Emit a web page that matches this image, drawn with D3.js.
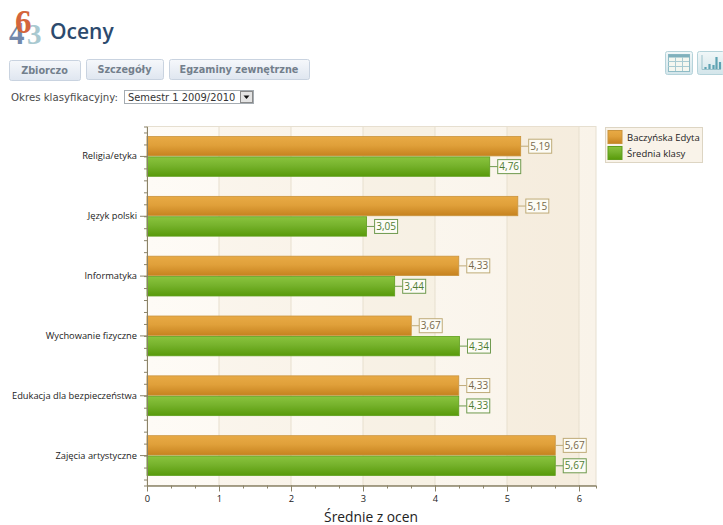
<!DOCTYPE html>
<html>
<head>
<meta charset="utf-8">
<script src="https://cdnjs.cloudflare.com/ajax/libs/d3/7.8.5/d3.min.js"></script>
<style>
body { margin: 0; background: #fff; overflow: hidden; }
text { font-family: "Open Sans", sans-serif; }
</style>
</head>
<body>
<div id="chart"></div>
<script>
var categories = ["Religia/etyka", "Język polski", "Informatyka", "Wychowanie fizyczne", "Edukacja dla bezpieczeństwa", "Zajęcia artystyczne"];
var seriesNames = ["Baczyńska Edyta", "Średnia klasy"];
var studentValues = [5.19, 5.15, 4.33, 3.67, 4.33, 5.67];
var classValues = [4.76, 3.05, 3.44, 4.34, 4.33, 5.67];
var xTicks = [0, 1, 2, 3, 4, 5, 6];
var tabs = ["Zbiorczo", "Szczegóły", "Egzaminy zewnętrzne"];

var margin = {top: 126.5, right: 127, bottom: 39.5, left: 147};
var width = 723 - margin.left - margin.right,
    height = 525 - margin.top - margin.bottom;

var root = d3.select("#chart").append("svg")
    .attr("width", 723)
    .attr("height", 525);

var defs = root.append("defs");
function vgrad(id, stops) {
    var g = defs.append("linearGradient").attr("id", id)
        .attr("x1", 0).attr("y1", 0).attr("x2", 0).attr("y2", 1);
    stops.forEach(function(s) {
        g.append("stop").attr("offset", s[0]).attr("stop-color", s[1]);
    });
}
vgrad("gradOrange", [[0, "#e8aa45"], [0.45, "#e0a03a"], [1, "#c6821f"]]);
vgrad("gradGreen", [[0, "#8ac43e"], [0.45, "#76b22c"], [1, "#589a0a"]]);
vgrad("gradBtn", [[0, "#f6f8fb"], [1, "#dfe6f0"]]);
vgrad("gradIcon", [[0, "#f1f7f8"], [1, "#d3e5ea"]]);
var bgGrad = defs.append("linearGradient").attr("id", "gradPlot")
    .attr("x1", 0).attr("y1", 0).attr("x2", 1).attr("y2", 0);
bgGrad.append("stop").attr("offset", 0).attr("stop-color", "#fefbf6");
bgGrad.append("stop").attr("offset", 1).attr("stop-color", "#f9f3e9");

// page header
var icon = root.append("g");
icon.append("text").attr("x", 9).attr("y", 44).text("4")
    .style("font-family", "Liberation Serif").style("font-size", "31px").style("font-weight", "bold").attr("fill", "#7288ab");
icon.append("text").attr("x", 27).attr("y", 44).text("3")
    .style("font-family", "Liberation Serif").style("font-size", "29px").style("font-weight", "bold").attr("fill", "#a9c9d0");
icon.append("text").attr("x", 15).attr("y", 33).text("6")
    .style("font-family", "Liberation Serif").style("font-size", "33px").style("font-weight", "bold").attr("fill", "#d4653c");

root.append("text").attr("x", 50).attr("y", 39).text("Oceny")
    .style("font-size", "21px").style("font-weight", "600").attr("fill", "#2c4a6e");

var tabX = d3.scaleOrdinal().domain(tabs).range([9, 86, 169]);
var tabW = d3.scaleOrdinal().domain(tabs).range([71, 77, 140]);
var tabG = root.selectAll(".tab").data(tabs).enter().append("g").attr("class", "tab");
tabG.append("rect")
    .attr("x", function(d) { return tabX(d) + 0.5; })
    .attr("y", function(d, i) { return i == 0 ? 60.5 : 59.5; })
    .attr("width", function(d) { return tabW(d); })
    .attr("height", 20)
    .attr("rx", 2)
    .attr("fill", "url(#gradBtn)")
    .attr("stroke", "#c9d3e0");
tabG.append("text")
    .attr("x", function(d) { return tabX(d) + tabW(d) / 2; })
    .attr("y", function(d, i) { return i == 0 ? 74 : 73; })
    .attr("text-anchor", "middle")
    .text(function(d) { return d; })
    .style("font-family", "DejaVu Sans")
    .style("font-size", "9.7px")
    .style("font-weight", "bold")
    .attr("fill", "#737f8c");

root.append("text").attr("x", 11).attr("y", 101).text("Okres klasyfikacyjny:")
    .style("font-family", "DejaVu Sans").style("font-size", "10.2px").attr("fill", "#4a4a4a");
root.append("rect").attr("x", 124.5).attr("y", 90.5).attr("width", 129).attr("height", 13)
    .attr("fill", "#fff").attr("stroke", "#a5acb2");
root.append("text").attr("x", 128).attr("y", 101).text("Semestr 1 2009/2010")
    .style("font-family", "DejaVu Sans").style("font-size", "9.9px").attr("fill", "#333");
root.append("rect").attr("x", 240.5).attr("y", 91.5).attr("width", 12).attr("height", 11)
    .attr("fill", "#e4e4e4").attr("stroke", "#8a8a8a");
root.append("path").attr("d", "M243.5 95.5h6l-3 3.5z").attr("fill", "#111");

// view switch icons
var tableIcon = root.append("g");
tableIcon.append("rect").attr("x", 665.5).attr("y", 51.5).attr("width", 27).attr("height", 23).attr("rx", 2)
    .attr("fill", "url(#gradIcon)").attr("stroke", "#b5d3da");
tableIcon.append("rect").attr("x", 668.5).attr("y", 54.5).attr("width", 21).attr("height", 17)
    .attr("fill", "#f4f7f0").attr("stroke", "#8fbcc6");
tableIcon.append("rect").attr("x", 668.5).attr("y", 54.5).attr("width", 21).attr("height", 3).attr("fill", "#7fb0bc");
tableIcon.append("path").attr("d", "M668 61.5h21M668 66.5h21M675.5 57v14M682.5 57v14")
    .attr("stroke", "#a8cbd2").attr("fill", "none");
var barIcon = root.append("g");
barIcon.append("rect").attr("x", 697.5).attr("y", 51.5).attr("width", 27).attr("height", 23).attr("rx", 2)
    .attr("fill", "url(#gradIcon)").attr("stroke", "#b5d3da");
barIcon.append("path").attr("d", "M702 55v14.5h19").attr("stroke", "#9cc2cb").attr("fill", "none");
barIcon.append("path").attr("d", "M705.5 69v-2M709.5 69v-5M713.5 69v-4M716.5 69v-12M720 69v-7")
    .attr("stroke", "#5fa3b3").attr("stroke-width", 2.2).attr("fill", "none");

// chart
var svg = root.append("g")
    .attr("transform", "translate(" + margin.left + "," + margin.top + ")");

var x = d3.scaleLinear().domain([0, 6.236]).range([0, width]);
var y0 = d3.scaleBand().domain(categories).range([0, height]).paddingInner(0.335).paddingOuter(0.1675);
var y1 = d3.scaleBand().domain(seriesNames).range([0, y0.bandwidth()]).paddingInner(0.05);
var yMinor = d3.scaleLinear().domain([0, categories.length]).range([0, height]);

svg.append("rect")
    .attr("width", width).attr("height", height)
    .attr("fill", "url(#gradPlot)")
    .attr("stroke", "#e6dfd0");

// alternating strips between the grid lines
svg.selectAll(".strip").data([1, 3, 5]).enter().append("rect")
    .attr("class", "strip")
    .attr("x", function(d) { return x(d); })
    .attr("width", function(d) { return x(d + 1) - x(d); })
    .attr("height", height)
    .attr("fill", "#efe3cd")
    .attr("opacity", function(d) { return d == 5 ? 0.4 : d == 3 ? 0.3 : 0.2; });

svg.selectAll(".grid").data(xTicks.slice(1)).enter().append("line")
    .attr("class", "grid")
    .attr("x1", function(d) { return x(d); })
    .attr("x2", function(d) { return x(d); })
    .attr("y2", height)
    .attr("stroke", "#e7dfce");

var seriesValues = [studentValues, classValues];
var seriesGrad = ["url(#gradOrange)", "url(#gradGreen)"];
var seriesStroke = ["#c9933c", "#5f9e1c"];
var labelStroke = ["#bfab78", "#6f9a4e"];
var labelColor = ["#77694a", "#4f7c33"];

var points = [];
seriesNames.forEach(function(name, s) {
    categories.forEach(function(cat, i) {
        points.push({cat: cat, name: name, s: s, v: seriesValues[s][i]});
    });
});

function barY(d) { return y0(d.cat) + y1(d.name); }

svg.selectAll(".bar").data(points).enter().append("rect")
    .attr("class", "bar")
    .attr("x", 0)
    .attr("y", barY)
    .attr("width", function(d) { return x(d.v); })
    .attr("height", y1.bandwidth())
    .attr("fill", function(d) { return seriesGrad[d.s]; })
    .attr("stroke", function(d) { return seriesStroke[d.s]; })
    .attr("stroke-width", 0.8);

var lab = svg.selectAll(".lab").data(points).enter().append("g").attr("class", "lab");
lab.append("line")
    .attr("x1", function(d) { return x(d.v); })
    .attr("x2", function(d) { return x(d.v) + 8; })
    .attr("y1", function(d) { return barY(d) + y1.bandwidth() / 2; })
    .attr("y2", function(d) { return barY(d) + y1.bandwidth() / 2; })
    .attr("stroke", function(d) { return labelStroke[d.s]; });
lab.append("rect")
    .attr("x", function(d) { return x(d.v) + 8; })
    .attr("y", function(d) { return barY(d) + y1.bandwidth() / 2 - 7; })
    .attr("width", 23)
    .attr("height", 14)
    .attr("fill", "#fdfcf6")
    .attr("stroke", function(d) { return labelStroke[d.s]; });
lab.append("text")
    .attr("x", function(d) { return x(d.v) + 19.5; })
    .attr("y", function(d) { return barY(d) + y1.bandwidth() / 2 + 3.5; })
    .attr("text-anchor", "middle")
    .text(function(d) { return d.v.toFixed(2).replace(".", ","); })
    .style("font-size", "10px")
    .attr("fill", function(d) { return labelColor[d.s]; });

// axes
function styleAxis(g) {
    g.selectAll("path, line").attr("stroke", "#8b8368");
    g.selectAll("text").style("font-family", '"Open Sans", sans-serif').style("font-size", "9.3px").attr("fill", "#222");
}
svg.append("g")
    .attr("transform", "translate(0," + height + ")")
    .call(d3.axisBottom(x).tickValues(d3.range(0, 6.2, 1 / 3)).tickSize(3).tickFormat(""))
    .call(styleAxis);
svg.append("g")
    .attr("transform", "translate(0," + height + ")")
    .call(d3.axisBottom(x).tickValues(xTicks).tickFormat(d3.format("d")).tickSize(6).tickPadding(4).tickSizeOuter(0))
    .call(styleAxis);
svg.append("g")
    .call(d3.axisLeft(yMinor).tickValues(d3.range(0.1, 6, 0.2)).tickSize(3).tickFormat(""))
    .call(styleAxis);
svg.append("g")
    .call(d3.axisLeft(y0).tickSize(7).tickPadding(3).tickSizeOuter(0))
    .call(styleAxis);

svg.append("text")
    .attr("x", 224)
    .attr("y", height + 36)
    .attr("text-anchor", "middle")
    .text("Średnie z ocen")
    .style("font-size", "13.8px")
    .attr("fill", "#222");

// legend
var legend = root.append("g").attr("transform", "translate(605,127)");
legend.append("rect").attr("x", 0.5).attr("y", 0.5).attr("width", 97).attr("height", 35)
    .attr("fill", "#f9f3e9").attr("stroke", "#ddd5c3");
var li = legend.selectAll(".li").data(seriesNames).enter().append("g")
    .attr("transform", function(d, i) { return "translate(3," + (3.5 + i * 16) + ")"; });
li.append("rect").attr("width", 14).attr("height", 13)
    .attr("fill", function(d, i) { return seriesGrad[i]; })
    .attr("stroke", function(d, i) { return seriesStroke[i]; });
li.append("text").attr("x", 19).attr("y", 10).text(function(d) { return d; })
    .style("font-size", "9.5px").attr("fill", "#222");
</script>
</body>
</html>
